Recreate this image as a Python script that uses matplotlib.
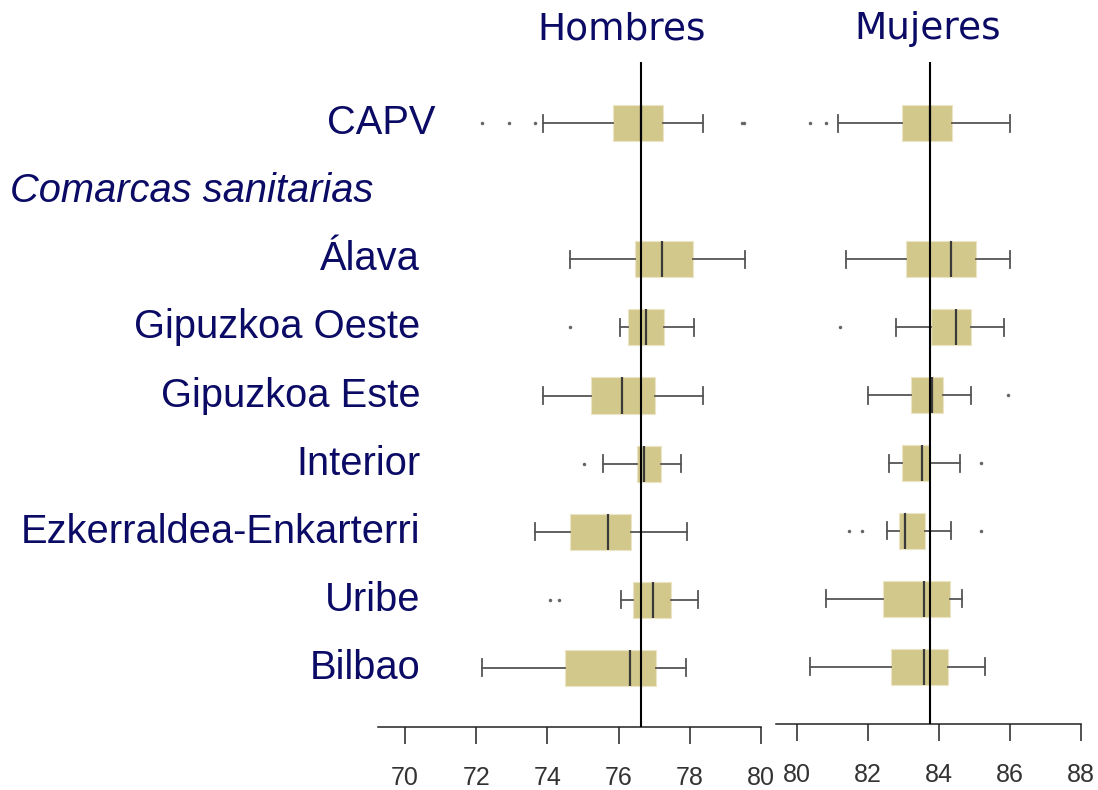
import matplotlib
matplotlib.use("Agg")
import matplotlib.pyplot as plt

plt.rcParams['font.family'] = ['Liberation Sans', 'DejaVu Sans']

# filas: 0 = CAPV, 1 = titulo "Comarcas sanitarias", 2..8 = comarcas
regiones = ["CAPV", "Álava", "Gipuzkoa Oeste", "Gipuzkoa Este", "Interior",
            "Ezkerraldea-Enkarterri", "Uribe", "Bilbao"]
filas = [0, 2, 3, 4, 5, 6, 7, 8]

# Hombres: esperanza de vida (años)
h_whislo = [73.87, 74.63, 76.03, 73.87, 75.56, 73.66, 76.08, 72.17]
h_q1     = [75.83, 76.47, 76.27, 75.22, 76.53, 74.62, 76.40, 74.49]
h_med    = [76.63, 77.22, 76.76, 76.10, 76.71, 75.69, 76.96, 76.33]
h_q3     = [77.24, 78.08, 77.28, 77.02, 77.19, 76.34, 77.48, 77.06]
h_whishi = [78.36, 79.54, 78.11, 78.36, 77.76, 77.93, 78.23, 77.89]
h_fliers = [[72.16, 72.92, 73.65, 79.46, 79.53], [], [74.63], [], [75.04],
            [], [74.07, 74.33], []]

# Mujeres
m_whislo = [81.17, 81.38, 82.80, 82.01, 82.60, 82.55, 80.83, 80.37]
m_q1     = [82.96, 83.08, 83.78, 83.21, 82.96, 82.87, 82.41, 82.65]
m_med    = [83.76, 84.35, 84.48, 83.79, 83.52, 83.05, 83.59, 83.59]
m_q3     = [84.37, 85.04, 84.91, 84.12, 83.76, 83.61, 84.32, 84.25]
m_whishi = [85.99, 85.99, 85.83, 84.90, 84.60, 84.35, 84.64, 85.31]
m_fliers = [[80.37, 80.82], [], [81.21], [85.95], [85.18],
            [81.46, 81.84, 85.18], [], []]

h_ticks = [70, 72, 74, 76, 78, 80]
m_ticks = [80, 82, 84, 86, 88]

navy = '#0b0b66'
W, H = 1098, 790
fig = plt.figure(figsize=(W / 100, H / 100), dpi=100)
ax_h = fig.add_axes([378 / W, 1 - 727 / H, (761 - 378) / W, (727 - 62) / H])
ax_m = fig.add_axes([776 / W, 1 - 724 / H, (1081 - 776) / W, (724 - 62) / H])


def dibujar(ax, lo, q1, med, q3, hi, fl, ticks, xlim, ylim):
    stats = []
    for i in range(len(lo)):
        stats.append(dict(whislo=lo[i], q1=q1[i], med=med[i], q3=q3[i],
                          whishi=hi[i], fliers=fl[i]))
    ax.bxp(stats, positions=filas, widths=0.53, orientation='horizontal',
           patch_artist=True, capwidths=0.25,
           boxprops=dict(facecolor='#d3c88c', edgecolor='#ebe5c5', linewidth=0.8),
           whiskerprops=dict(color='#555555', linewidth=1.3),
           capprops=dict(color='#555555', linewidth=1.3),
           medianprops=dict(color='#3a3a3a', linewidth=1.6),
           flierprops=dict(marker='o', markersize=1.5, markerfacecolor='#666666',
                           markeredgecolor='#666666'))
    ax.axvline(med[0], color='black', linewidth=1.5, zorder=5)
    ax.set_xlim(*xlim)
    ax.set_ylim(*ylim)
    ax.set_xticks(ticks)
    ax.set_yticks([])
    for s in ['top', 'left', 'right']:
        ax.spines[s].set_visible(False)
    ax.spines['bottom'].set_linewidth(1.1)
    ax.spines['bottom'].set_color('#222222')
    ax.tick_params(axis='x', direction='out', length=12, width=1.1,
                   color='#222222', pad=16, labelsize=18, labelcolor='#333333')
    ax.patch.set_alpha(0)


dibujar(ax_h, h_whislo, h_q1, h_med, h_q3, h_whishi, h_fliers, h_ticks,
        (69.24, 80), (8.87, -0.9))
dibujar(ax_m, m_whislo, m_q1, m_med, m_q3, m_whishi, m_fliers, m_ticks,
        (79.41, 88), (8.84, -0.9))

# etiquetas de filas
for nombre, y in zip(regiones, filas):
    x = 0.149 if nombre == "CAPV" else 0.11
    ax_h.text(x, y, nombre, transform=ax_h.get_yaxis_transform(), ha='right',
              va='center', fontsize=28.7, color=navy, clip_on=False)
ax_h.text(-0.961, 1, "Comarcas sanitarias", transform=ax_h.get_yaxis_transform(),
          ha='left', va='center', fontsize=28.7, style='italic', color=navy,
          clip_on=False)

fig.text(622 / W, 1 - 29 / H, "Hombres", ha='center', va='center',
         fontsize=27, color=navy, family='DejaVu Sans')
fig.text(928 / W, 1 - 29 / H, "Mujeres", ha='center', va='center',
         fontsize=27, color=navy, family='DejaVu Sans')

fig.savefig('out.png', dpi=100)
